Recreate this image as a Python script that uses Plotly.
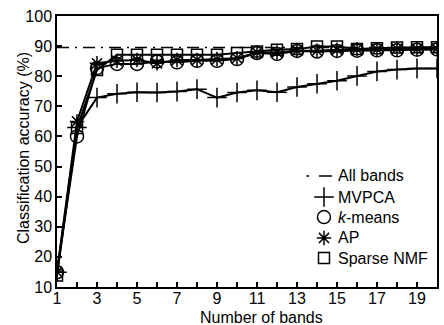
import plotly.graph_objects as go

bands = list(range(1, 21))
all_bands = [89.5] * 20
mvpca = [14.9, 63.0, 72.9, 74.2, 74.7, 74.6, 74.9, 75.7, 72.9, 74.6,
         75.3, 74.7, 76.4, 77.5, 78.5, 80.1, 81.6, 82.2, 82.6, 82.6]
kmeans = [14.9, 60.0, 82.7, 84.1, 84.1, 84.9, 84.6, 85.1, 85.1, 85.7,
          87.7, 87.4, 88.4, 88.2, 88.4, 88.5, 88.6, 88.6, 88.8, 88.9]
ap = [15.0, 65.0, 84.3, 85.1, 85.4, 84.3, 85.4, 85.4, 85.7, 86.0,
      87.9, 87.9, 88.5, 88.5, 88.8, 89.0, 89.0, 89.1, 89.1, 89.2]
snmf = [13.8, 62.8, 82.1, 87.1, 87.1, 87.1, 87.1, 87.1, 87.1, 87.7,
        88.2, 88.8, 89.0, 89.9, 89.9, 89.0, 89.3, 89.5, 89.6, 89.6]
x_ticks = list(range(1, 21))
x_labels = [str(v) if v % 2 == 1 else "" for v in x_ticks]
y_ticks = list(range(10, 101, 10))
legend_names = ["All bands", "MVPCA", "<i>k</i>-means", "AP", "Sparse NMF"]
x_title = "Number of bands"
y_title = "Classification accuracy (%)"

FONT = "Liberation Sans, Arial, sans-serif"
fig = go.Figure()

series = [
    (mvpca, "cross-thin-open", 14),
    (kmeans, "circle-open", 13),
    (ap, "asterisk-open", 12),
    (snmf, "square-open", 11),
]

fig.add_trace(go.Scatter(x=bands, y=all_bands, mode="lines",
                         line=dict(color="black", width=1.5, dash="12px,6px,2px,6px"),
                         showlegend=False))
for vals, sym, sz in series:
    fig.add_trace(go.Scatter(x=bands, y=vals, mode="lines+markers",
                             line=dict(color="black", width=2),
                             marker=dict(symbol=sym, size=sz, color="black",
                                         line=dict(width=1.5, color="black")),
                             showlegend=False))

# hand-made legend (marker column + text column), in plot-area fractions
row_y = [0.4096, 0.332, 0.258, 0.181, 0.107]
mark_x = 0.7026
text_x = 0.735
for (vals, sym, sz), ry in zip(series, row_y[1:]):
    fig.add_trace(go.Scatter(x=[mark_x], y=[ry], xaxis="x2", yaxis="y2",
                             mode="markers", showlegend=False, hoverinfo="skip",
                             marker=dict(symbol=sym, size=sz, color="black",
                                         line=dict(width=1.5, color="black"))))
# dash-dot sample for "All bands"
fig.add_shape(type="line", xref="paper", yref="paper",
              x0=(306.5 - 57) / 380, x1=(309 - 57) / 380, y0=row_y[0], y1=row_y[0],
              line=dict(color="black", width=1.5))
fig.add_shape(type="line", xref="paper", yref="paper",
              x0=(319 - 57) / 380, x1=(332 - 57) / 380, y0=row_y[0], y1=row_y[0],
              line=dict(color="black", width=1.5))
for name, ry in zip(legend_names, row_y):
    fig.add_annotation(x=text_x, y=ry, xref="paper", yref="paper", text=name,
                       showarrow=False, xanchor="left", yanchor="middle",
                       font=dict(size=16, family=FONT, color="black"))

# axis titles
fig.add_annotation(x=(261 - 57) / 380, y=(287 - 317) / 271, xref="paper", yref="paper",
                   text=x_title, showarrow=False, xanchor="center", yanchor="middle",
                   font=dict(size=16, family=FONT, color="black"))
fig.add_annotation(x=(23 - 57) / 380, y=(287 - 148) / 271, xref="paper", yref="paper",
                   text=y_title, showarrow=False, xanchor="center", yanchor="middle",
                   textangle=-90, font=dict(size=16, family=FONT, color="black"))

fig.update_layout(
    width=444, height=325,
    margin=dict(l=57, r=7, t=16, b=38),
    paper_bgcolor="white", plot_bgcolor="white",
    font=dict(family=FONT, size=16, color="black"),
    showlegend=False,
    xaxis=dict(range=[1, 20], tickvals=x_ticks, ticktext=x_labels,
               ticks="inside", ticklen=5, tickwidth=1.5, tickcolor="black",
               ticklabelstandoff=-4,
               showline=True, linecolor="black", linewidth=1.5, mirror=True,
               showgrid=False, zeroline=False, automargin=False),
    yaxis=dict(range=[10, 100], tickvals=y_ticks,
               ticks="inside", ticklen=5, tickwidth=1.5, tickcolor="black",
               showline=True, linecolor="black", linewidth=1.5, mirror=True,
               showgrid=False, zeroline=False, automargin=False),
    xaxis2=dict(range=[0, 1], overlaying="x", visible=False, fixedrange=True),
    yaxis2=dict(range=[0, 1], overlaying="y", visible=False, fixedrange=True),
)

fig.write_html("out.html", config={"displayModeBar": False},
               post_script="document.body.style.margin='0';document.body.style.overflow='hidden';")
